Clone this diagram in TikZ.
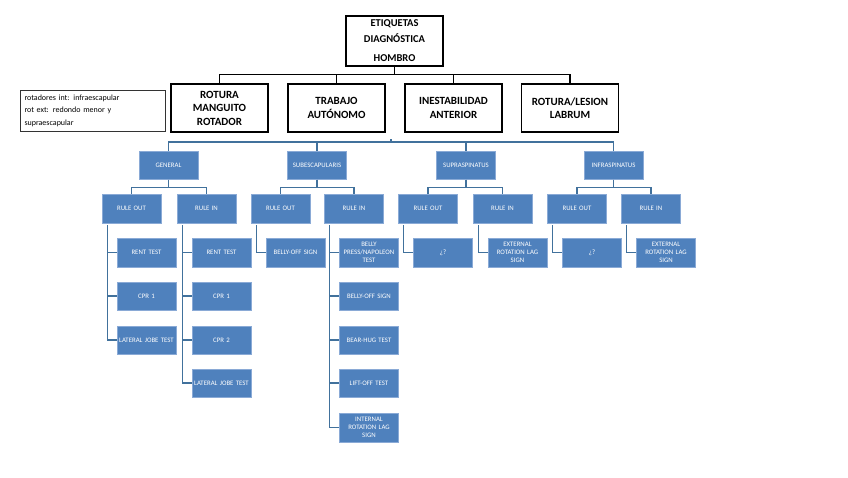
\documentclass[tikz,border=0pt]{standalone}
\usepackage{fontspec}
\setmainfont{Carlito}
\usetikzlibrary{calc}
\definecolor{boxblue}{HTML}{4F81BD}
\definecolor{lineblue}{HTML}{41719C}
\definecolor{edgeblue}{HTML}{8AAAD6}
\begin{document}
\begin{tikzpicture}[x=1pt,y=-1pt,
  rootbox/.style={draw=black,line width=1.1pt,fill=white,minimum width=97pt,minimum height=50pt,inner sep=0pt,align=center,font=\fontsize{10.5}{16}\selectfont\bfseries},
  catbox/.style={draw=black,line width=1.1pt,fill=white,minimum width=97pt,minimum height=48pt,inner sep=0pt,align=center,font=\fontsize{11}{13.5}\selectfont\bfseries},
  notebox/.style={draw=black!80,line width=0.9pt,fill=white,text width=137pt,inner xsep=4pt,inner ysep=0pt,minimum height=41pt,align=left,font=\fontsize{8}{12.5}\selectfont},
  bluebox/.style={fill=boxblue,draw=edgeblue,line width=0.5pt,text=white,text width=57pt,inner xsep=1pt,inner ysep=0pt,minimum height=28.5pt,align=center,font=\fontsize{6.8}{7.8}\selectfont},
  blk/.style={draw=black,line width=1.2pt},
  blu/.style={draw=lineblue,line width=1.4pt}
]
\useasboundingbox (0,0) rectangle (848,477);

% top level
\node[rootbox] (root) at (394.5,41) {ETIQUETAS\\DIAGNÓSTICA\\[3pt]HOMBRO};
\node[catbox] (c1) at (219.5,108) {ROTURA\\MANGUITO\\ROTADOR};
\node[catbox] (c2) at (336.5,108) {TRABAJO\\AUTÓNOMO};
\node[catbox] (c3) at (453.5,108) {INESTABILIDAD\\ANTERIOR};
\node[catbox] (c4) at (570,108) {ROTURA/LESION\\LABRUM};
\node[notebox] (note) at (93,110.5) {rotadores int: infraescapular\\rot ext: redondo menor y\\supraescapular};

\foreach \c in {c1,c2,c3,c4}
  \draw[blk] (root.south) -- ++(0,8) -| (\c.north);

% level 3
\node[bluebox] (gen) at (168.5,165) {GENERAL};
\node[bluebox] (sub) at (317,165) {SUBESCAPULARIS};
\node[bluebox] (sup) at (466,165) {SUPRASPINATUS};
\node[bluebox] (inf) at (613.5,165) {INFRASPINATUS};
\coordinate (hub) at (391,142);
\draw[blu] (hub) -- ++(0,-3);
\foreach \c in {gen,sub,sup,inf}
  \draw[blu] (hub) -| (\c.north);

% level 4
\node[bluebox] (go) at (131.5,208.5) {RULE OUT};
\node[bluebox] (gi) at (206.5,208.5) {RULE IN};
\node[bluebox] (so) at (280.5,208.5) {RULE OUT};
\node[bluebox] (si) at (354,208.5) {RULE IN};
\node[bluebox] (po) at (428,208.5) {RULE OUT};
\node[bluebox] (pi) at (502.5,208.5) {RULE IN};
\node[bluebox] (io) at (577,208.5) {RULE OUT};
\node[bluebox] (ii) at (651,208.5) {RULE IN};
\foreach \p/\a/\b in {gen/go/gi,sub/so/si,sup/po/pi,inf/io/ii}{
  \draw[blu] (\p.south) -- ++(0,8) -| (\a.north);
  \draw[blu] (\p.south) -- ++(0,8) -| (\b.north);
}

% level 5
\node[bluebox] (go1) at (146.5,252.5) {RENT TEST};
\node[bluebox] (go2) at (146.5,296) {CPR 1};
\node[bluebox] (go3) at (146.5,340) {LATERAL JOBE TEST};

\node[bluebox] (gi1) at (221.5,252.5) {RENT TEST};
\node[bluebox] (gi2) at (221.5,296) {CPR 1};
\node[bluebox] (gi3) at (221.5,340) {CPR 2};
\node[bluebox] (gi4) at (221.5,383) {LATERAL JOBE TEST};

\node[bluebox] (so1) at (295.5,252.5) {BELLY-OFF SIGN};

\node[bluebox] (si1) at (369,252.5) {BELLY\\PRESS/NAPOLEON\\TEST};
\node[bluebox] (si2) at (369,296) {BELLY-OFF SIGN};
\node[bluebox] (si3) at (369,340) {BEAR-HUG TEST};
\node[bluebox] (si4) at (369,383) {LIFT-OFF TEST};
\node[bluebox] (si5) at (369,427.5) {INTERNAL\\ROTATION LAG\\SIGN};

\node[bluebox] (po1) at (443,252.5) {¿?};
\node[bluebox] (pi1) at (517.5,252.5) {EXTERNAL\\ROTATION LAG\\SIGN};
\node[bluebox] (io1) at (592,252.5) {¿?};
\node[bluebox] (ii1) at (666,252.5) {EXTERNAL\\ROTATION LAG\\SIGN};

\foreach \p/\cs in {go/{go1,go2,go3},gi/{gi1,gi2,gi3,gi4},so/{so1},si/{si1,si2,si3,si4,si5},po/{po1},pi/{pi1},io/{io1},ii/{ii1}}{
  \foreach \c in \cs
    \draw[blu] ([xshift=5.5pt,yshift=-2pt]\p.south west) |- (\c.west);
}
\end{tikzpicture}
\end{document}
